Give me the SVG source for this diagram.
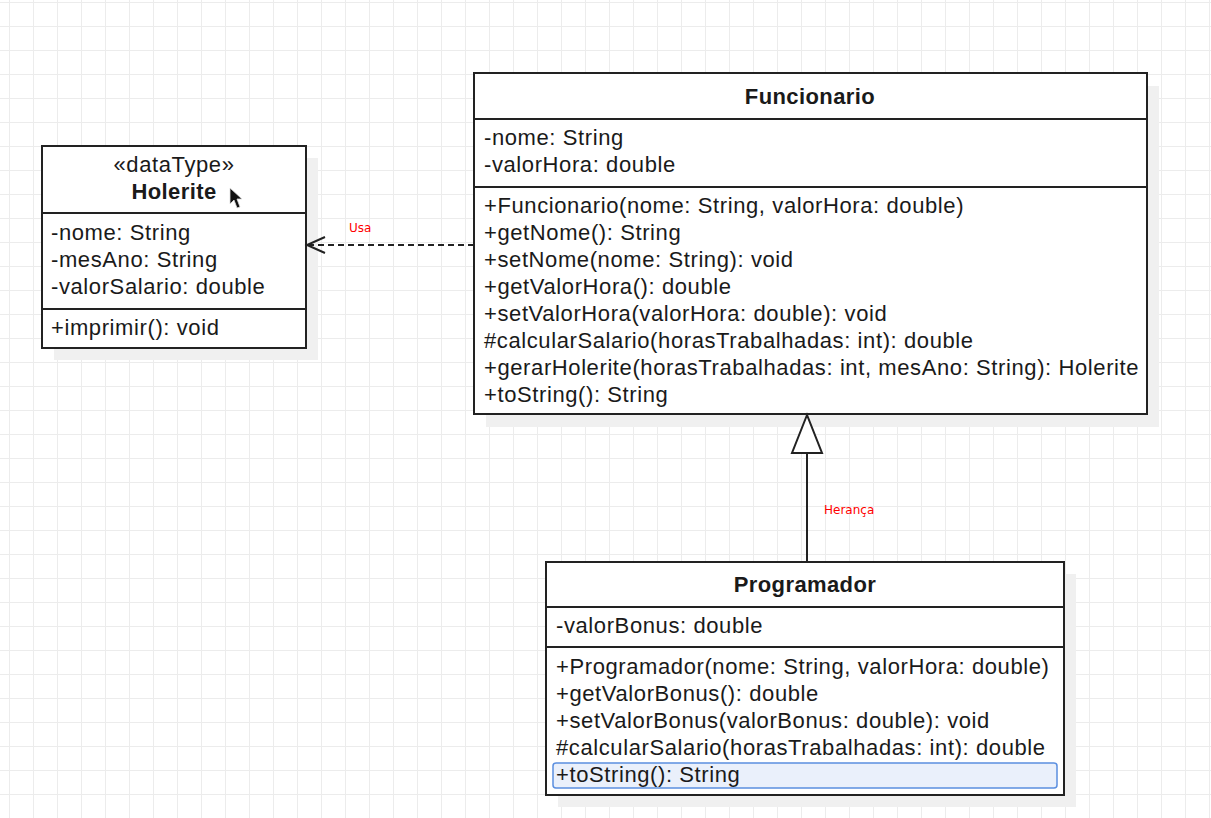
<svg xmlns="http://www.w3.org/2000/svg" width="1211" height="818" viewBox="0 0 1211 818">
  <defs>
    <pattern id="grid" x="9" y="2" width="24" height="24" patternUnits="userSpaceOnUse">
      <path d="M0 0H24M0 0V24" fill="none" stroke="#ececec" stroke-width="2"/>
    </pattern>
    <marker id="open-arrow" markerWidth="24" markerHeight="20" refX="20" refY="10" orient="auto" markerUnits="userSpaceOnUse">
      <path d="M2 2 L20 10 L2 18" fill="none" stroke="#222" stroke-width="2"/>
    </marker>
  </defs>
  <style>
    .box { fill: #ffffff; stroke: #222; stroke-width: 2; }
    .shadow { fill: #f0f0f0; }
    .div { stroke: #222; stroke-width: 2; }
    .t { font-family: "Liberation Sans", Arial, sans-serif; font-size: 22px; letter-spacing: 0.6px; fill: #1a1a1a; }
    .title { font-weight: bold; text-anchor: middle; letter-spacing: 0.4px; }
    .lbl { font-family: "DejaVu Sans", "Liberation Sans", sans-serif; font-size: 12px; fill: #ff0000; }
    .edge { fill: none; stroke: #222; stroke-width: 2; }
  </style>

  <rect width="1211" height="818" fill="#ffffff"/>
  <rect width="1211" height="818" fill="url(#grid)"/>

  <!-- Holerite -->
  <g id="holerite">
    <rect class="shadow" x="54" y="158" width="264" height="202"/>
    <rect class="box" x="42" y="146" width="264" height="202"/>
    <line class="div" x1="42" y1="213" x2="306" y2="213"/>
    <line class="div" x1="42" y1="309" x2="306" y2="309"/>
    <text class="t" x="174" y="172" text-anchor="middle">«dataType»</text>
    <text class="t title" x="174" y="199">Holerite</text>
    <text class="t" x="51" y="240">-nome: String</text>
    <text class="t" x="51" y="267">-mesAno: String</text>
    <text class="t" x="51" y="294">-valorSalario: double</text>
    <text class="t" x="51" y="335">+imprimir(): void</text>
  </g>

  <!-- Funcionario -->
  <g id="funcionario">
    <rect class="shadow" x="486" y="86" width="673" height="341"/>
    <rect class="box" x="474" y="73" width="673" height="341"/>
    <line class="div" x1="474" y1="119" x2="1147" y2="119"/>
    <line class="div" x1="474" y1="187" x2="1147" y2="187"/>
    <text class="t title" x="810" y="104">Funcionario</text>
    <text class="t" x="484" y="145">-nome: String</text>
    <text class="t" x="484" y="172">-valorHora: double</text>
    <text class="t" x="484" y="213">+Funcionario(nome: String, valorHora: double)</text>
    <text class="t" x="484" y="240">+getNome(): String</text>
    <text class="t" x="484" y="267">+setNome(nome: String): void</text>
    <text class="t" x="484" y="294">+getValorHora(): double</text>
    <text class="t" x="484" y="321">+setValorHora(valorHora: double): void</text>
    <text class="t" x="484" y="348">#calcularSalario(horasTrabalhadas: int): double</text>
    <text class="t" x="484" y="375">+gerarHolerite(horasTrabalhadas: int, mesAno: String): Holerite</text>
    <text class="t" x="484" y="402">+toString(): String</text>
  </g>

  <!-- Programador -->
  <g id="programador">
    <rect class="shadow" x="558" y="574" width="518" height="233"/>
    <rect class="box" x="546" y="562" width="518" height="233"/>
    <line class="div" x1="546" y1="607" x2="1064" y2="607"/>
    <line class="div" x1="546" y1="647" x2="1064" y2="647"/>
    <text class="t title" x="805" y="592">Programador</text>
    <text class="t" x="556" y="633">-valorBonus: double</text>
    <text class="t" x="556" y="674">+Programador(nome: String, valorHora: double)</text>
    <text class="t" x="556" y="701">+getValorBonus(): double</text>
    <text class="t" x="556" y="728">+setValorBonus(valorBonus: double): void</text>
    <text class="t" x="556" y="755">#calcularSalario(horasTrabalhadas: int): double</text>
    <rect x="553" y="763" width="504" height="25" rx="3" fill="#eaf0fb" stroke="#5b8fe0" stroke-width="1.5"/>
    <text class="t" x="556" y="782">+toString(): String</text>
  </g>

  <!-- connectors -->
  <g id="connectors">
    <line class="edge" x1="474" y1="245" x2="307" y2="245" stroke-dasharray="6 4" marker-end="url(#open-arrow)"/>
    <text class="lbl" x="349" y="232">Usa</text>
    <line class="edge" x1="807" y1="562" x2="807" y2="453"/>
    <polygon points="807,415 792,453 822,453" fill="#ffffff" stroke="#222" stroke-width="2"/>
    <text class="lbl" x="824" y="514">Herança</text>
  </g>

  <!-- mouse pointer -->
  <path d="M230 188 L230 204 L234 200 L237 208 L240 207 L237 199 L242 199 Z" fill="#111" stroke="#ddd" stroke-width="0.8"/>
</svg>
